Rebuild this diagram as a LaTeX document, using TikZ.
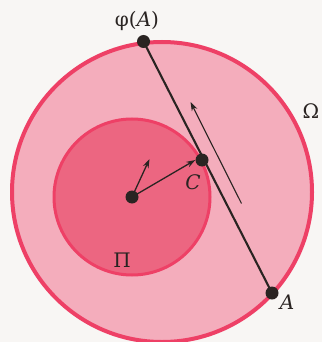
\documentclass[tikz,border=0pt]{standalone}
\usepackage{fontspec}
\setmainfont{DejaVu Serif}
\usetikzlibrary{arrows.meta,calc}
\definecolor{bgc}{HTML}{F8F6F4}
\definecolor{outerfill}{HTML}{F4ADBC}
\definecolor{innerfill}{HTML}{EC6681}
\definecolor{rimc}{HTML}{EE4066}
\definecolor{inkc}{HTML}{2A2422}
\tikzset{
  dot/.style={circle,fill=inkc,inner sep=0pt,minimum size=13pt},
  lab/.style={inner sep=0pt,text=inkc,font=\fontsize{20}{22}\selectfont},
  vec/.style={draw=inkc,line width=1.3pt,-{Stealth[length=9pt,width=6pt]}}
}
\begin{document}
\begin{tikzpicture}[x=1pt,y=-1pt]
\useasboundingbox[fill=bgc] (0,0) rectangle (322,342);
% regions
\node[circle,draw=rimc,fill=outerfill,line width=4pt,minimum size=300pt,inner sep=0pt] (omega) at (162,192) {};
\node[circle,draw=rimc,fill=innerfill,line width=3pt,minimum size=156pt,inner sep=0pt] (pi) at (132,197) {};
% points
\node[dot] (phiA) at (143.5,41.5) {};
\node[dot] (A) at (272,293) {};
\node[dot] (C) at (202,160) {};
\node[dot] (O) at (132,197) {};
% chord
\draw[inkc,line width=2.1pt] (phiA.center) -- (A.center);
% vectors
\coordinate (v) at (149.5,159);
\draw[vec] (O.center) -- (v);
\draw[vec] (O.center) -- (C.west);
\coordinate (p1) at (241.5,203.5);
\coordinate (p2) at (190.5,102);
\draw[inkc,line width=1.1pt,-{Stealth[length=9pt,width=6pt]}] (p1) -- (p2);
% labels
\node[lab] (lphi) at (137,21) {φ(\textit{A})};
\node[lab] (lomega) at (311,111) {Ω};
\node[lab] (lC) at (193,182) {\textit{C}};
\node[lab] (lpi) at (122,260) {Π};
\node[lab] (lA) at (287,302) {\textit{A}};
\end{tikzpicture}
\end{document}
